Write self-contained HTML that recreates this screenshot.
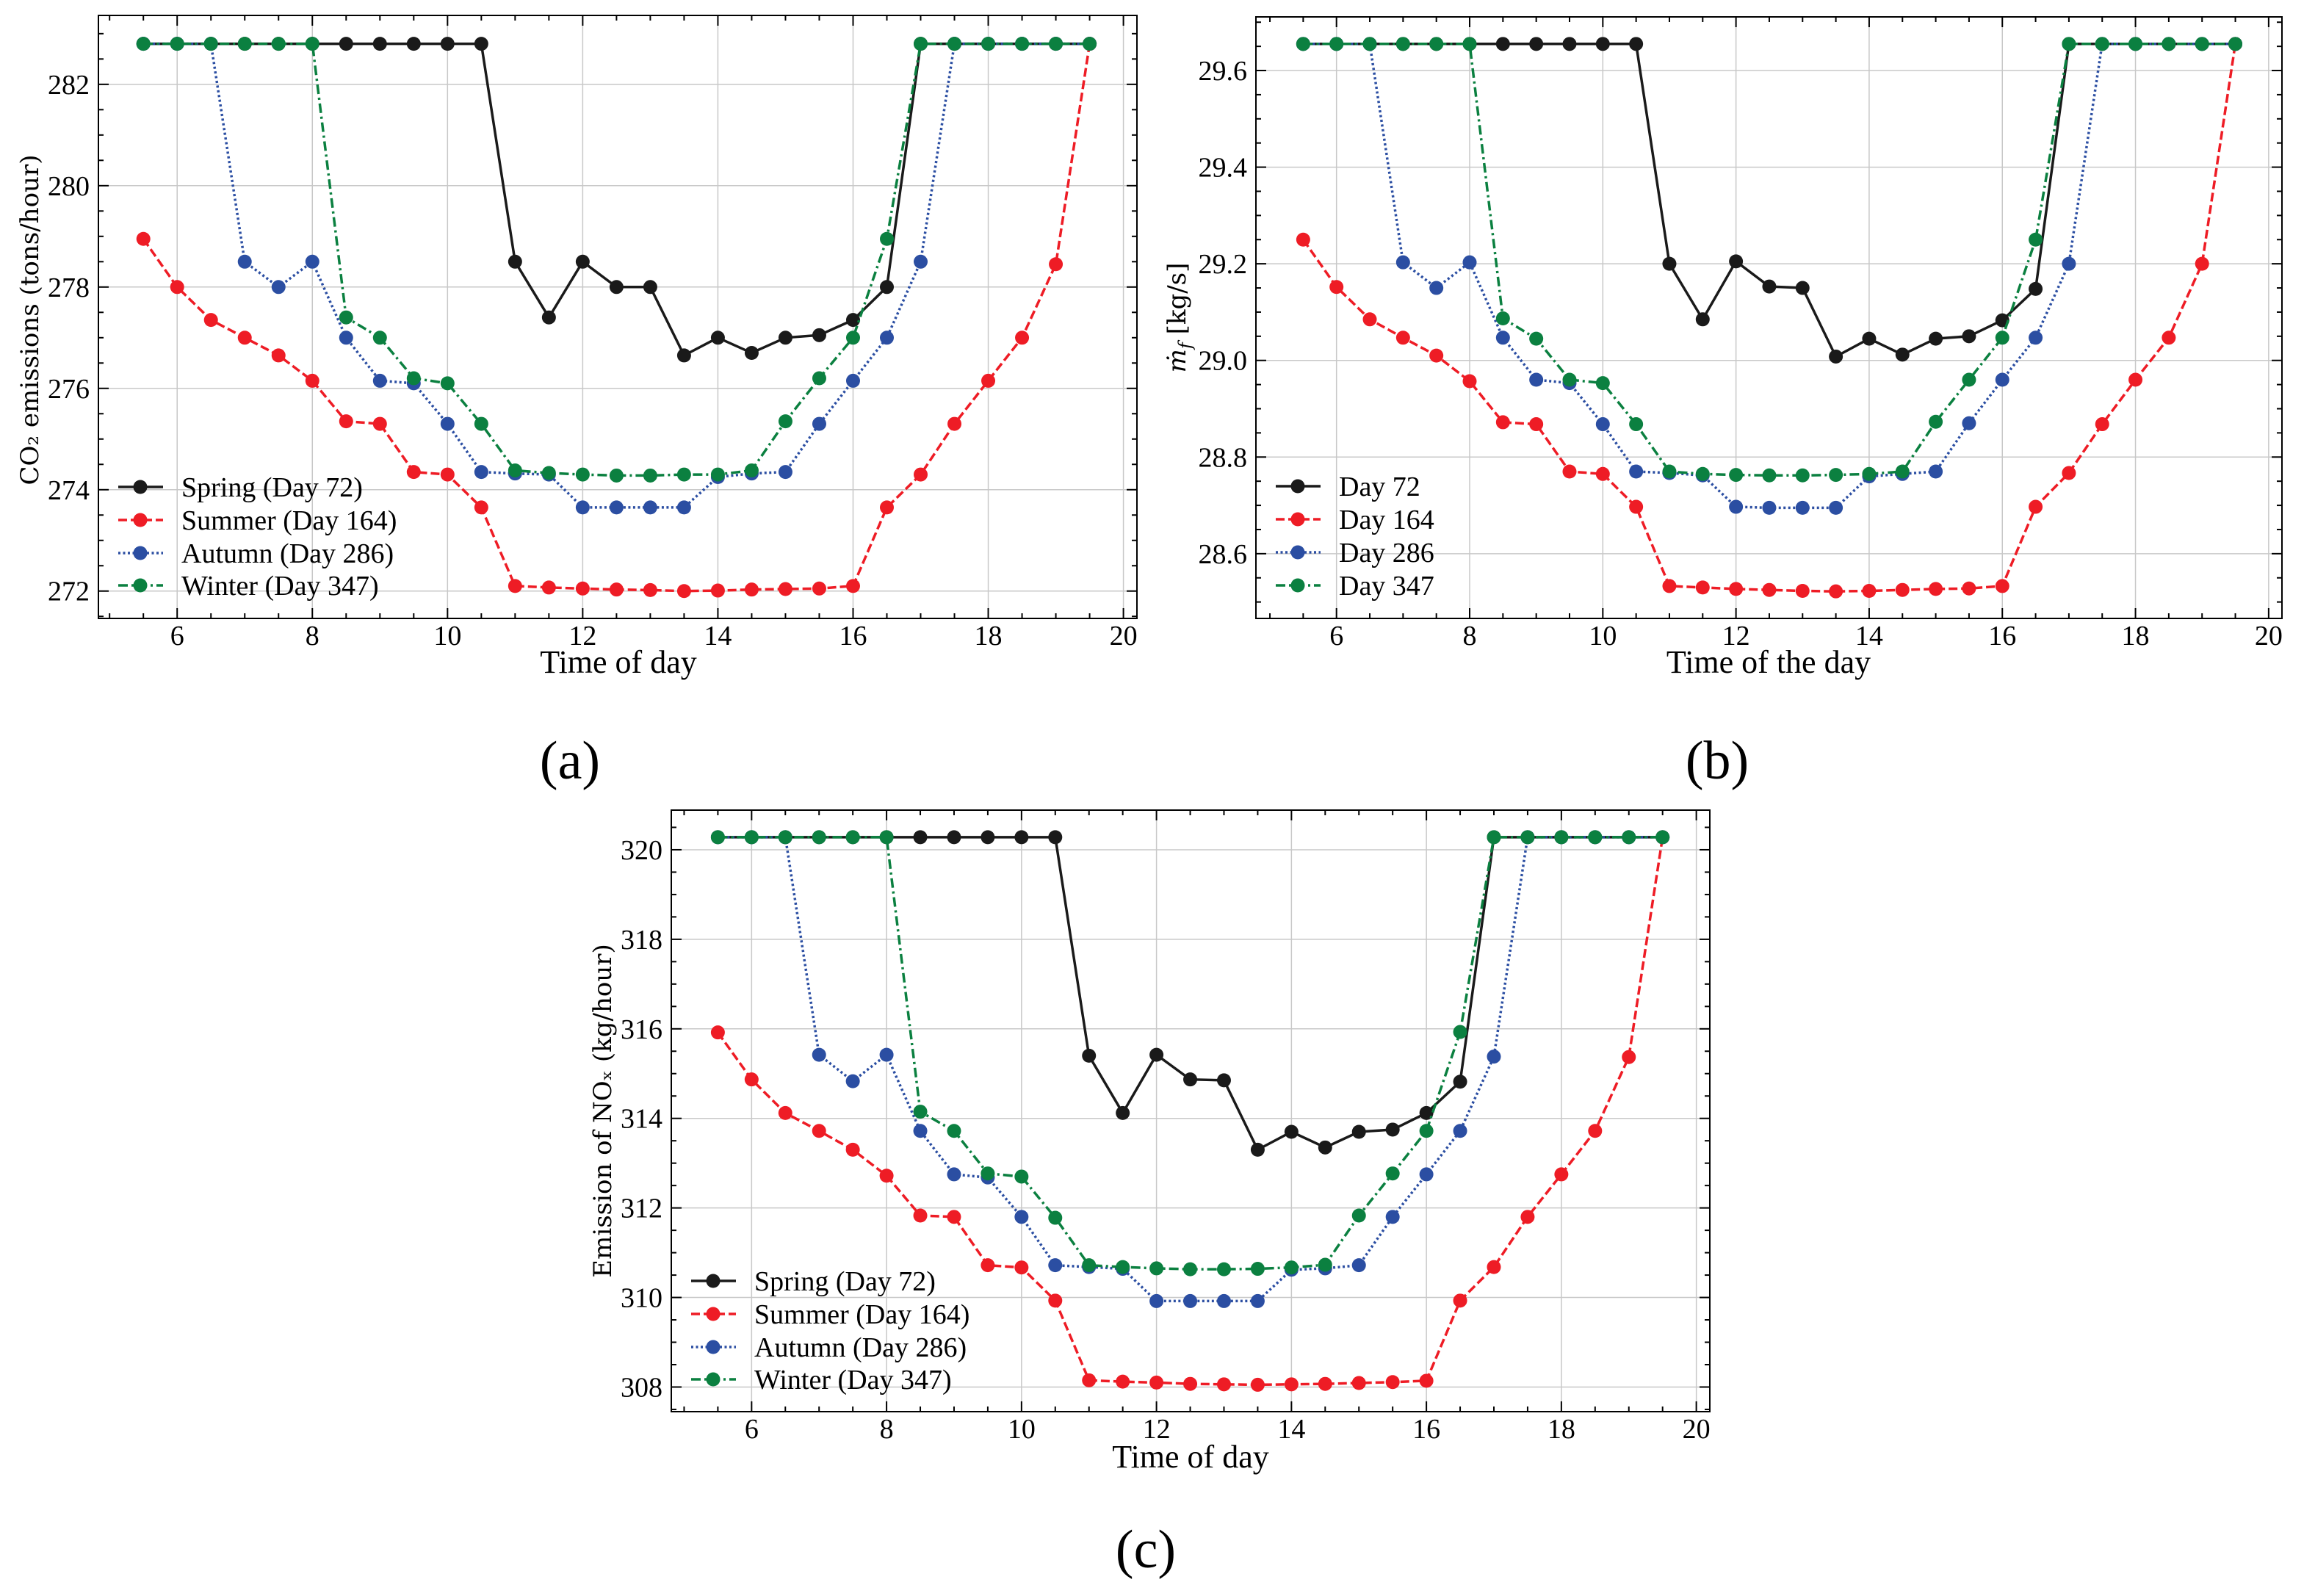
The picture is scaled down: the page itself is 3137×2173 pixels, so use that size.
<!DOCTYPE html>
<html><head><meta charset="utf-8"><style>html,body{margin:0;padding:0;background:#fff}svg{display:block}</style></head>
<body>
<svg id="fig" width="3137" height="2173" viewBox="0 0 3137 2173" xmlns="http://www.w3.org/2000/svg">
<rect width="3137" height="2173" fill="#fff"/>
<text x="776" y="1060" font-family="Liberation Serif, serif" font-size="74" text-anchor="middle">(a)</text>
<text x="2338" y="1060" font-family="Liberation Serif, serif" font-size="74" text-anchor="middle">(b)</text>
<text x="1560" y="2134" font-family="Liberation Serif, serif" font-size="74" text-anchor="middle">(c)</text>
</svg>
<script>
const times = [5.5,6,6.5,7,7.5,8,8.5,9,9.5,10,10.5,11,11.5,12,12.5,13,13.5,14,14.5,15,15.5,16,16.5,17,17.5,18,18.5,19,19.5];
const co2Spring = [282.8,282.8,282.8,282.8,282.8,282.8,282.8,282.8,282.8,282.8,282.8,278.5,277.4,278.5,278.0,278.0,276.65,277.0,276.7,277.0,277.05,277.35,278.0,282.8,282.8,282.8,282.8,282.8,282.8];
const co2Summer = [278.95,278.0,277.35,277.0,276.65,276.15,275.35,275.3,274.35,274.3,273.65,272.1,272.07,272.05,272.03,272.02,272.0,272.01,272.03,272.04,272.05,272.1,273.65,274.3,275.3,276.15,277.0,278.45,282.8];
const co2Autumn = [282.8,282.8,282.8,278.5,278.0,278.5,277.0,276.15,276.1,275.3,274.35,274.32,274.3,273.65,273.65,273.65,273.65,274.25,274.32,274.35,275.3,276.15,277.0,278.5,282.8,282.8,282.8,282.8,282.8];
const co2Winter = [282.8,282.8,282.8,282.8,282.8,282.8,277.4,277.0,276.2,276.1,275.3,274.38,274.33,274.3,274.28,274.28,274.3,274.3,274.38,275.35,276.2,277.0,278.95,282.8,282.8,282.8,282.8,282.8,282.8];
const mfSpring = [29.655,29.655,29.655,29.655,29.655,29.655,29.655,29.655,29.655,29.655,29.655,29.2,29.085,29.205,29.153,29.15,29.008,29.045,29.012,29.045,29.05,29.083,29.148,29.655,29.655,29.655,29.655,29.655,29.655];
const mfSummer = [29.25,29.152,29.085,29.047,29.01,28.957,28.872,28.868,28.77,28.765,28.697,28.533,28.53,28.527,28.525,28.523,28.522,28.523,28.525,28.527,28.528,28.533,28.697,28.767,28.868,28.96,29.047,29.2,29.655];
const mfAutumn = [29.655,29.655,29.655,29.203,29.15,29.203,29.047,28.96,28.953,28.868,28.77,28.767,28.762,28.697,28.695,28.695,28.695,28.76,28.765,28.77,28.87,28.96,29.047,29.2,29.655,29.655,29.655,29.655,29.655];
const mfWinter = [29.655,29.655,29.655,29.655,29.655,29.655,29.087,29.045,28.96,28.953,28.868,28.77,28.765,28.763,28.762,28.762,28.763,28.765,28.77,28.873,28.96,29.047,29.25,29.655,29.655,29.655,29.655,29.655,29.655];
const noxSpring = [320.28,320.28,320.28,320.28,320.28,320.28,320.28,320.28,320.28,320.28,320.28,315.4,314.12,315.42,314.87,314.85,313.3,313.7,313.35,313.7,313.75,314.12,314.82,320.28,320.28,320.28,320.28,320.28,320.28];
const noxSummer = [315.92,314.87,314.12,313.72,313.3,312.72,311.83,311.8,310.72,310.67,309.93,308.15,308.12,308.1,308.07,308.06,308.05,308.06,308.07,308.09,308.11,308.14,309.93,310.68,311.8,312.75,313.72,315.37,320.28];
const noxAutumn = [320.28,320.28,320.28,315.42,314.83,315.42,313.72,312.75,312.68,311.8,310.72,310.68,310.64,309.92,309.92,309.92,309.92,310.62,310.65,310.72,311.8,312.75,313.72,315.38,320.28,320.28,320.28,320.28,320.28];
const noxWinter = [320.28,320.28,320.28,320.28,320.28,320.28,314.15,313.72,312.77,312.7,311.78,310.72,310.68,310.65,310.63,310.63,310.64,310.67,310.73,311.83,312.77,313.72,315.93,320.28,320.28,320.28,320.28,320.28,320.28];
const xTicks = [6,8,10,12,14,16,18,20];
const co2Ticks = [272,274,276,278,280,282];
const mfTicks = [28.6,28.8,29.0,29.2,29.4,29.6];
const noxTicks = [308,310,312,314,316,318,320];
const seasonNames = ["Spring (Day 72)","Summer (Day 164)","Autumn (Day 286)","Winter (Day 347)"];
const dayNames = ["Day 72","Day 164","Day 286","Day 347"];

const NS="http://www.w3.org/2000/svg";
const svg=document.getElementById('fig');
function mk(tag,attrs,parent){const e=document.createElementNS(NS,tag);for(const k in attrs)e.setAttribute(k,attrs[k]);(parent||svg).appendChild(e);return e;}
const colors=["#1a1a1a","#ee1c25","#2b4ea2","#0b8040"];
const dashes=["","12,5","3,3.5","13,5,3,5"];
const seriesKeys=["spring","summer","autumn","winter"];

function panel(cfg){
  const g=mk('g',{});
  
  
  const {L,R,T,B,xmin,xmax,ymin,ymax}=cfg;
  const sx=v=>L+(v-xmin)/(xmax-xmin)*(R-L);
  const sy=v=>B-(v-ymin)/(ymax-ymin)*(B-T);
  xTicks.forEach(t=>{const x=sx(t);if(x<=L||x>=R)return;const l=mk('line',{x1:x,x2:x,y1:T,y2:B,stroke:'#c8c8c8','stroke-width':1.5},g);
    });
  cfg.yTicks.forEach(t=>{const y=sy(t);const l=mk('line',{x1:L,x2:R,y1:y,y2:y,stroke:'#c8c8c8','stroke-width':1.5},g);
    });
  for(let v=Math.ceil(xmin*2)/2;v<=xmax;v+=0.5){const x=sx(v);const major=xTicks.includes(v);const len=major?14:7;
    mk('line',{x1:x,x2:x,y1:B,y2:B-len,stroke:'#000','stroke-width':2},g);mk('line',{x1:x,x2:x,y1:T,y2:T+len,stroke:'#000','stroke-width':2},g);}
  const step=cfg.minor;
  for(let v=Math.ceil(ymin/step)*step;v<=ymax+1e-9;v+=step){const y=sy(v);const major=cfg.yTicks.some(t=>Math.abs(t-v)<step/10);const len=major?14:7;
    mk('line',{x1:L,x2:L+len,y1:y,y2:y,stroke:'#000','stroke-width':2},g);mk('line',{x1:R,x2:R-len,y1:y,y2:y,stroke:'#000','stroke-width':2},g);}
  xTicks.forEach(t=>{const tx=mk('text',{x:sx(t),y:B+36,'font-family':'Liberation Serif, serif','font-size':38,'text-anchor':'middle'},g);tx.textContent=t;
    });
  cfg.yTicks.forEach(t=>{const tx=mk('text',{x:L-12,y:sy(t)+13,'font-family':'Liberation Serif, serif','font-size':38,'text-anchor':'end'},g);tx.textContent=cfg.fmt(t);
    });
  cfg.series.forEach((vals,i)=>{
    const pts=vals.map((v,j)=>sx(times[j]).toFixed(1)+','+sy(v).toFixed(1)).join(' ');
    const pl=mk('polyline',{points:pts,fill:'none',stroke:colors[i],'stroke-width':3.5,'stroke-dasharray':dashes[i]||'none'},g);
    
    vals.forEach((v,j)=>{const c=mk('circle',{cx:sx(times[j]),cy:sy(v),r:9.5,fill:colors[i]},g);
      });
  });
  const fr=mk('rect',{x:L,y:T,width:R-L,height:B-T,fill:'none',stroke:'#000','stroke-width':2},g);
  
  cfg.legend.forEach((name,i)=>{const y=cfg.legY[i];
    const lg=mk('g',{},g);
    mk('line',{x1:cfg.legX,x2:cfg.legX+61,y1:y,y2:y,stroke:colors[i],'stroke-width':3.5,'stroke-dasharray':dashes[i]||'none'},lg);
    mk('circle',{cx:cfg.legX+30,cy:y,r:9.5,fill:colors[i]},lg);
    const tx=mk('text',{x:cfg.legX+86,y:y+13,'font-family':'Liberation Serif, serif','font-size':38},lg);tx.textContent=name;});
  const xl=mk('text',{x:cfg.xlX,y:cfg.xlY,'font-family':'Liberation Serif, serif','font-size':44,'text-anchor':'middle'},g);
  xl.textContent=cfg.xlabel;
  const yl=mk('text',{x:0,y:0,'font-family':'DejaVu Serif, serif','font-size':34,'text-anchor':'middle',transform:`translate(${cfg.ylX},${(T+B)/2+cfg.ylOff}) rotate(-90)`},g);
  
  if(cfg.ylabelHTML){yl.innerHTML=cfg.ylabelHTML;}else{yl.textContent=cfg.ylabel;}
}

panel({name:'panel-a-co2',L:134,R:1548,T:21,B:842,xmin:4.835,xmax:20.2,ymin:271.46,ymax:283.36,yTicks:co2Ticks,minor:0.5,fmt:t=>t,
  series:[co2Spring,co2Summer,co2Autumn,co2Winter],legend:seasonNames,legX:161,legY:[663,708,753,797],
  xlabel:'Time of day',xlX:842,xlY:916,ylabel:'CO₂ emissions (tons/hour)',ylX:52,ylOff:4});
panel({name:'panel-b-mf',L:1710,R:3107,T:23,B:842,xmin:4.79,xmax:20.2,ymin:28.466,ymax:29.711,yTicks:mfTicks,minor:0.05,fmt:t=>t.toFixed(1),
  series:[mfSpring,mfSummer,mfAutumn,mfWinter],legend:dayNames,legX:1737,legY:[662,707,752,797],
  xlabel:'Time of the day',xlX:2408,xlY:916,ylabelHTML:'<tspan font-style="italic">ṁ</tspan><tspan font-style="italic" font-size="24" dy="8">f</tspan><tspan dy="-8"> [kg/s]</tspan>',ylX:1614,ylOff:0});
panel({name:'panel-c-nox',L:914,R:2328,T:1103,B:1922,xmin:4.81,xmax:20.2,ymin:307.45,ymax:320.885,yTicks:noxTicks,minor:0.5,fmt:t=>t,
  series:[noxSpring,noxSummer,noxAutumn,noxWinter],legend:seasonNames,legX:941,legY:[1744,1789,1834,1878],
  xlabel:'Time of day',xlX:1621,xlY:1998,ylabel:'Emission of NOₓ (kg/hour)',ylX:832,ylOff:0});
</script>
</body></html>
